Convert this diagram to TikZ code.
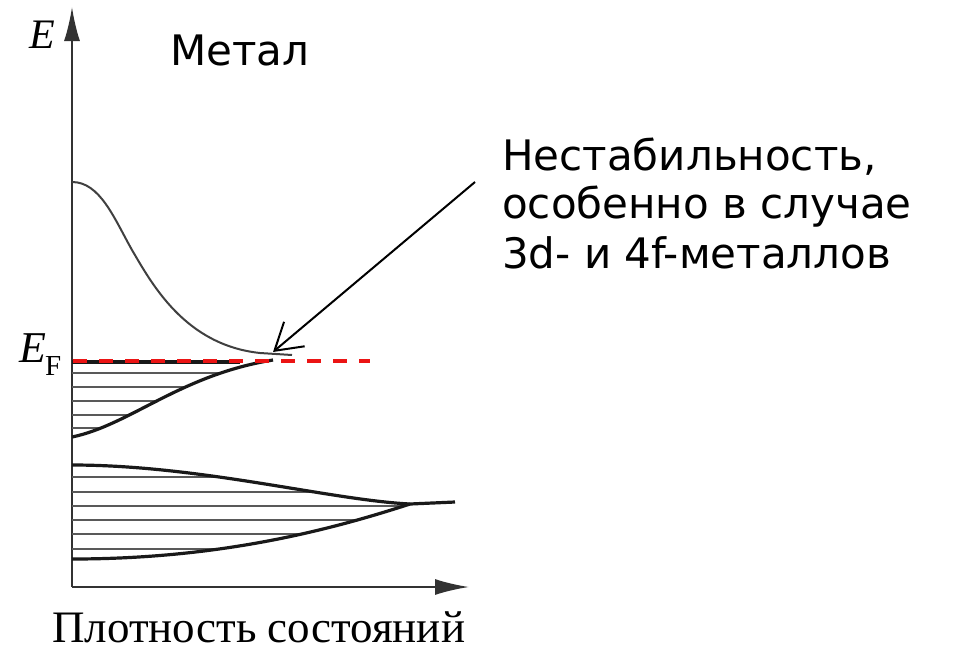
\documentclass[tikz,border=0pt]{standalone}
\usepackage{fontspec}
\setmainfont{Liberation Serif}
\newfontfamily\comic{DejaVu Sans}
\usetikzlibrary{arrows.meta}
\tikzset{
  axisline/.style={line width=2pt, draw={rgb,255:red,50;green,50;blue,50}},
  bandcurve/.style={line width=3.2pt, draw=black!90},
  thincurve/.style={line width=2pt, draw=black!75},
  hatchline/.style={line width=1.4pt, draw=black!65},
  fermi/.style={line width=4pt, draw={rgb,255:red,235;green,20;blue,20}, dash pattern=on 14pt off 12pt},
  pointer/.style={line width=2pt, draw=black, -{Straight Barb[length=26pt,width=32pt,line width=2pt]}},
  comictext/.style={font=\comic\fontsize{42}{42}\selectfont, inner sep=0pt, anchor=base west},
}
\begin{document}
\begin{tikzpicture}[x=1pt,y=-1pt]
\useasboundingbox (0,0) rectangle (957,654);
% axes
\coordinate (O) at (72,587);
\coordinate (ytop) at (72,7);
\coordinate (xend) at (469,587);
\draw[axisline,-{Latex[length=34pt,width=16pt]}] (O) -- (ytop);
\draw[axisline,-{Latex[length=34pt,width=16pt]}] (O) -- (xend);
% upper (empty) band
\draw[thincurve] (72,182) .. controls (100,182) and (114,218) .. (132,250)
  .. controls (152,284) and (185,345) .. (260,353) -- (292,355);
% band 1 hatching
\begin{scope}
\clip (72,437) .. controls (130,425) and (180,375) .. (273,360) -- (72,360) -- cycle;
\foreach \yy in {373,387,401,415,428} \draw[hatchline] (72,\yy) -- (300,\yy);
\end{scope}
\draw[bandcurve] (72,362) -- (240,362);
\draw[bandcurve] (72,437) .. controls (130,425) and (180,375) .. (273,360);
% band 2 hatching
\begin{scope}
\clip (72,465) .. controls (200,465) and (330,500) .. (410,504)
  .. controls (330,530) and (220,559) .. (72,559) -- cycle;
\foreach \yy in {477,492,506,520,534,549} \draw[hatchline] (72,\yy) -- (460,\yy);
\end{scope}
\draw[bandcurve] (72,465) .. controls (200,465) and (330,500) .. (410,504) -- (455,502);
\draw[bandcurve] (72,559) .. controls (220,559) and (330,530) .. (410,504);
% Fermi level
\coordinate (fa) at (73,361);
\coordinate (fb) at (370,361);
\draw[fermi] (fa) -- (fb);
% labels
\node[inner sep=0pt, anchor=base] (E) at (42,48) {\fontsize{42}{42}\selectfont\textit{E}};
\node[inner sep=0pt, anchor=base west] (EF) at (19,362) {\fontsize{44}{44}\selectfont\textit{E}\kern-1pt\raisebox{-13pt}{\fontsize{29}{29}\selectfont F}};
\node[comictext] (metal) at (170,65) {Метал};
\node[comictext] (l1) at (502,170) {Нестабильность,};
\node[comictext] (l2) at (502,218) {особенно в случае};
\node[comictext] (l3) at (502,268) {3d- и 4f-металлов};
\node[inner sep=0pt, anchor=base west] (dos) at (52,642) {\fontsize{45}{45}\selectfont Плотность состояний};
% pointer
\coordinate (pstart) at (475,182);
\coordinate (ptip) at (273,352);
\draw[pointer] (pstart) -- (ptip);
\end{tikzpicture}
\end{document}
